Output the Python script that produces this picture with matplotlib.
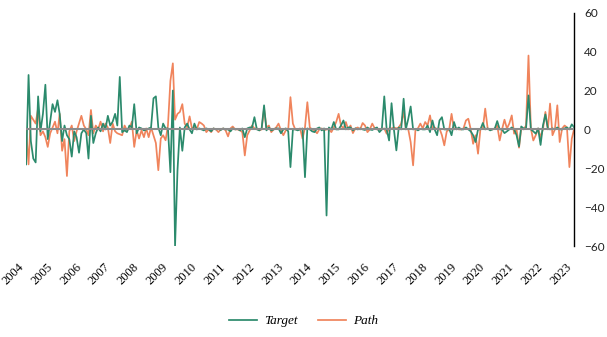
import pandas as pd
import numpy as np
import matplotlib.pyplot as plt

# monthly values, Jan 2004 .. Jan 2023 (one row per year)
target = [
    -18, 28, -6, -15, -17, 17, -1, 8, 23, -5, 4, 13,          # 2004
    9, 15, 8, -6, 2, -3, -5, -14, -1, -4, -12, -2,            # 2005
    0, -2, -15, 7, -7, -2, 1, -1, 3, 0, 7, 2,                 # 2006
    4, 8, 2, 27, -1.4, -0.5, -1.4, 2, 1, 13, -2, 1,           # 2007
    0.5, -0.5, 0, 0.5, 1, 16, 17, 1, -3, 3, 0.5, 0.5,         # 2008
    -22, 20, -60, -21, 1, -11, 1, 3, 0, -2, 3, 0,             # 2009
    0.5, 0, -0.5, 0.5, 0, -1, 0.5, 0, 0.3, -0.3, 0.5, 0,      # 2010
    0, -1, 0.5, 0, 0.3, -0.5, 0.5, -4, 0.5, 1, 1, 6.3,        # 2011
    0, -0.5, 0.5, 12.4, -0.5, 1, -0.5, 0, 0.5, 0.5, -2, 0,    # 2012
    0.5, -1, -19.4, 0, 0, -0.5, 0, 0.5, -24.6, 0.5, 0, -1,    # 2013
    -1.4, 0.5, 1, -0.5, 0.5, -44.3, 1, 0, 3.8, 0, 0, 2,       # 2014
    4.6, 0, 1, 1, -0.5, 0.5, 0, 0.5, 0, -0.3, 1, 0,           # 2015
    -0.3, 0.5, 1, -1.4, 0, 17, 0, -5.7, 13.5, 0, -10.8, 1,    # 2016
    0, 15.8, 0, 5.5, 11.8, 0, 0.3, -0.5, 0.3, 0, 0, 2,        # 2017
    -1.4, 4.6, 0, -3, 4.6, 6.3, 0, 0, 0.3, -3, 3.8, 0,        # 2018
    1, 0, 0, 1, 0, -1, -3, -6.5, 0, 0, 3.3, 0,                # 2019
    0.5, -0.5, 0, 0.5, 4.3, 0, 0, -1.9, -1, 0, 1, 0,          # 2020
    -3, -8.8, 1.5, 0.5, 0.5, 17.5, 0, -1, -2.2, 0.5, -8, 2,   # 2021
    7.7, 0.5, 0, 0.5, 0, 1, 0, 0, 0.5, 1, 0, 2.6,             # 2022
    1,                                                        # 2023
]

path = [
    0, -18, 7, 5, 3, 11, -3, -1, -4, -9, -2, 1,               # 2004
    4, -2, 8, -11, -5, -24, -1, 2, -6, -1, 3, 7,              # 2005
    2, 0, -3, 10, -2, 2, 0, 4, -1, 3, 1, -7,                  # 2006
    3, -1, -2, -2.5, -3, 2, -0.5, 0.5, 4, -9, -0.5, -4.7,     # 2007
    -0.5, -4, 0.5, -4, 1, -3, -7, -21, -4.7, -3, -5.6, 2,     # 2008
    25, 34, 5, 8, 9, 13, 3, 1, 6.7, 0.5, 1, 0,                # 2009
    3.8, 3, 2, -1.4, 0, -1.4, 0.5, 0, -1.4, 0, 0.5, -0.5,     # 2010
    -3.6, 0.5, 1.5, 0, 0, -0.5, -1.4, -13.4, -3, -0.5, 2, 0.5,  # 2011
    0.5, -0.5, 0, 10.7, 1, 2, -1.4, 0, 1, 3, -0.5, -3,        # 2012
    -0.5, 0, 16.6, 3, 0, 0, 0.5, -4.7, 1, 14, 1, 0,           # 2013
    -0.5, -2, 0, 0.5, -0.5, 0, 0, -1.4, 1, 3.8, 8, 2,         # 2014
    0.5, 3.8, 0, 2, -1.9, 0.5, 1, 0, 3.3, 2, -1.4, 0,         # 2015
    3, 0.5, 0, 0, 0, 0.5, -2.2, 0.5, 0.5, 1, 0.5, 1,          # 2016
    3, 9, 0.5, 0, -6.5, -18.5, 0, 0.5, 3, 0.5, 3.8, 2,        # 2017
    7.2, 0, 1, 0, 0.5, -3, -8.2, -1, 0, 8, 0, 0.5,            # 2018
    0, 0, 0.5, 4.6, 5.5, 0, -7.4, -3, -12.5, 0, 0.5, 10.7,    # 2019
    0.5, 0, 0, 0.5, 2, -5.7, 0, 5, 0.5, 3, 7.2, -2.2,         # 2020
    0, -9.4, 0.5, 0, 2, 38, 0.5, -5.7, -3, 0.5, -4, 0,        # 2021
    9, 0, 13.3, -3, 0, 12.4, -6.5, 0.5, 2, 1, -19.4, -4.8,    # 2022
    0.5,                                                      # 2023
]

years = list(range(2004, 2024))
dates = pd.date_range("2004-01-01", periods=len(target), freq="MS")

green = "#2b8a6c"
orange = "#f0845c"

fig = plt.figure(figsize=(6.07, 3.37), dpi=100)
ax = fig.add_axes([0.043, 0.27, 0.903, 0.692])

ax.plot(dates, path, color=orange, lw=1.25, label="Path", zorder=2)
ax.plot(dates, target, color=green, lw=1.25, label="Target", zorder=3)
ax.axhline(0, color="#8c8c8c", lw=1.5, zorder=4)

ax.set_xlim(dates[0], dates[-1])
ax.set_ylim(-60, 60)

for s in ["top", "left", "bottom"]:
    ax.spines[s].set_visible(False)
ax.spines["right"].set_color("black")
ax.spines["right"].set_linewidth(1.0)

ax.yaxis.tick_right()
ax.set_yticks(range(-60, 61, 20))
ax.tick_params(axis="y", length=0, pad=7, labelsize=8.5, labelcolor="#222222")
for t in ax.get_yticklabels():
    t.set_family("Lato")

ax.set_xticks([pd.Timestamp(f"{y}-01-01") for y in years])
ax.set_xticklabels([str(y) for y in years], rotation=45, ha="right",
                   family="Liberation Serif", fontsize=9)
ax.tick_params(axis="x", length=0, pad=11)

handles, labels = ax.get_legend_handles_labels()
fig.legend([handles[1], handles[0]], [labels[1], labels[0]],
           loc="center", bbox_to_anchor=(0.5, 0.047), ncol=2, frameon=False,
           prop={"family": "Liberation Serif", "style": "italic", "size": 9.5},
           handlelength=2.1, handletextpad=0.5, columnspacing=1.6)

fig.savefig("out.png", dpi=100)
